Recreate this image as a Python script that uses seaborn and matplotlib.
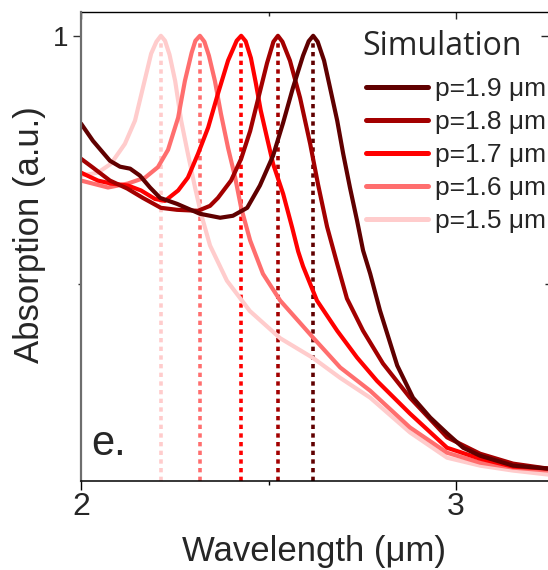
import matplotlib

matplotlib.use("Agg")
import matplotlib.pyplot as plt
import pandas as pd
import seaborn as sns
from matplotlib.ticker import FixedLocator


# Simulated absorption spectra
labels = ["p=1.5 μm", "p=1.6 μm", "p=1.7 μm", "p=1.8 μm", "p=1.9 μm"]
colors = ["#FFCCCC", "#FF6E6E", "#FF0000", "#A30000", "#600000"]
peaks = [2.213, 2.317, 2.427, 2.525, 2.619]

wl_15 = [2.000, 2.045, 2.080, 2.117, 2.144, 2.165, 2.187, 2.201, 2.213, 2.224,
         2.236, 2.251, 2.267, 2.285, 2.304, 2.320, 2.344, 2.389, 2.450, 2.531,
         2.619, 2.691, 2.771, 2.877, 2.976, 3.064, 3.152, 3.245]
abs_15 = [0.718, 0.724, 0.742, 0.782, 0.829, 0.895, 0.964, 0.988, 1.000, 0.990,
          0.962, 0.909, 0.829, 0.762, 0.694, 0.641, 0.577, 0.506, 0.445, 0.390,
          0.350, 0.310, 0.270, 0.200, 0.149, 0.133, 0.123, 0.115]

wl_16 = [2.000, 2.072, 2.125, 2.171, 2.205, 2.232, 2.259, 2.277, 2.295, 2.305,
         2.317, 2.329, 2.341, 2.357, 2.373, 2.392, 2.411, 2.427, 2.451, 2.485,
         2.531, 2.619, 2.691, 2.771, 2.877, 2.976, 3.064, 3.152, 3.245]
abs_16 = [0.708, 0.694, 0.702, 0.714, 0.735, 0.770, 0.835, 0.909, 0.966, 0.990,
          1.000, 0.988, 0.960, 0.909, 0.843, 0.774, 0.714, 0.653, 0.587, 0.520,
          0.466, 0.391, 0.331, 0.284, 0.210, 0.159, 0.139, 0.129, 0.123]

wl_17 = [2.000, 2.045, 2.080, 2.125, 2.160, 2.197, 2.224, 2.259, 2.285, 2.312,
         2.339, 2.365, 2.392, 2.415, 2.427, 2.439, 2.453, 2.466, 2.479, 2.496,
         2.512, 2.539, 2.563, 2.579, 2.592, 2.629, 2.683, 2.736, 2.789, 2.877,
         2.976, 3.064, 3.152, 3.245]
abs_17 = [0.724, 0.708, 0.702, 0.698, 0.688, 0.671, 0.667, 0.688, 0.714, 0.762,
          0.815, 0.883, 0.950, 0.990, 1.000, 0.989, 0.955, 0.905, 0.850, 0.794,
          0.742, 0.681, 0.613, 0.565, 0.535, 0.466, 0.405, 0.351, 0.304, 0.238,
          0.169, 0.147, 0.131, 0.127]

wl_18 = [2.000, 2.032, 2.077, 2.123, 2.165, 2.213, 2.256, 2.312, 2.344, 2.365,
         2.400, 2.427, 2.451, 2.469, 2.496, 2.513, 2.525, 2.537, 2.557, 2.584,
         2.611, 2.632, 2.656, 2.683, 2.709, 2.752, 2.805, 2.877, 2.976, 3.064,
         3.152, 3.245]
abs_18 = [0.752, 0.734, 0.708, 0.692, 0.673, 0.653, 0.649, 0.647, 0.657, 0.673,
          0.708, 0.752, 0.808, 0.863, 0.945, 0.988, 1.000, 0.988, 0.950, 0.875,
          0.782, 0.700, 0.615, 0.540, 0.470, 0.405, 0.339, 0.270, 0.190, 0.157,
          0.137, 0.127]

wl_19 = [2.000, 2.032, 2.077, 2.104, 2.131, 2.157, 2.184, 2.211, 2.256, 2.317,
         2.371, 2.405, 2.443, 2.477, 2.512, 2.539, 2.565, 2.592, 2.607, 2.619,
         2.631, 2.648, 2.664, 2.683, 2.699, 2.717, 2.736, 2.752, 2.771, 2.797,
         2.843, 2.885, 2.931, 2.976, 3.019, 3.064, 3.152, 3.245]
abs_19 = [0.823, 0.788, 0.748, 0.736, 0.732, 0.718, 0.694, 0.673, 0.661, 0.641,
          0.633, 0.637, 0.653, 0.698, 0.758, 0.825, 0.895, 0.960, 0.989, 1.000,
          0.988, 0.950, 0.895, 0.829, 0.762, 0.694, 0.627, 0.567, 0.520, 0.446,
          0.335, 0.270, 0.230, 0.198, 0.169, 0.153, 0.133, 0.127]

y_bottom, y_top = 0.102, 1.048
x_left, x_right = 2.0, 3.245


def build_frame():
    series = [(wl_15, abs_15), (wl_16, abs_16), (wl_17, abs_17),
              (wl_18, abs_18), (wl_19, abs_19)]
    frames = []
    for label, (wl, ab) in zip(labels, series):
        frames.append(pd.DataFrame({"wavelength": wl, "absorption": ab, "period": label}))
    return pd.concat(frames, ignore_index=True)


def main():
    df = build_frame()

    sns.set_theme(style="ticks")
    plt.rcParams["font.family"] = ["Liberation Sans", "DejaVu Sans"]
    plt.rcParams["lines.solid_joinstyle"] = "round"
    plt.rcParams["lines.solid_capstyle"] = "round"

    fig = plt.figure(figsize=(5.48, 5.70), dpi=100)
    ax = fig.add_axes([81 / 548, 89 / 570, 467 / 548, 469 / 570])

    # dotted markers at each resonance
    for pk, c in zip(peaks, colors):
        ax.vlines(pk, y_bottom, 1.0, colors=c, linestyles=(0, (1.2, 1.2)), lw=2.6, zorder=1)

    sns.lineplot(
        data=df, x="wavelength", y="absorption", hue="period",
        hue_order=labels, palette=colors, lw=3, estimator=None, ax=ax, zorder=2,
    )

    ax.set_xlim(x_left, x_right)
    ax.set_ylim(y_bottom, y_top)

    # spines
    ax.spines["right"].set_visible(False)
    ax.spines["top"].set_visible(False)
    ax.spines["left"].set_color("#6e6e6e")
    ax.spines["left"].set_linewidth(1.6)
    ax.spines["bottom"].set_color("black")
    ax.spines["bottom"].set_linewidth(1.1)

    ax.set_xticks([2, 3])
    ax.set_xticks([2.5], minor=True)
    ax.set_yticks([1])
    ax.set_yticks([0.5], minor=True)
    ax.set_xticklabels(["2", "3"])
    ax.set_yticklabels(["1"])
    ax.tick_params(axis="x", which="major", direction="out", length=6.5, width=1,
                   labelsize=23, pad=1.5, bottom=True, color="black")
    ax.tick_params(axis="x", which="minor", direction="out", length=3.2, width=1,
                   bottom=True, color="black")
    ax.tick_params(axis="y", which="major", direction="out", length=6, width=1,
                   labelsize=20, pad=3, left=True, color="#333333")
    ax.tick_params(axis="y", which="minor", direction="out", length=2.5, width=1,
                   left=True, color="#333333")

    # mirrored ticks pointing inwards on top and right
    top = ax.secondary_xaxis("top")
    top.xaxis.set_major_locator(FixedLocator([2, 3]))
    top.xaxis.set_minor_locator(FixedLocator([2.5]))
    top.tick_params(which="major", direction="in", length=5, width=1, labeltop=False, top=True)
    top.tick_params(which="minor", direction="in", length=3, width=1, top=True)
    top.spines["top"].set_linewidth(1.0)
    top.spines["top"].set_color("black")

    right = ax.secondary_yaxis("right")
    right.yaxis.set_major_locator(FixedLocator([1]))
    right.yaxis.set_minor_locator(FixedLocator([0.5]))
    right.tick_params(which="major", direction="in", length=5, width=1, labelright=False, right=True)
    right.tick_params(which="minor", direction="in", length=2.5, width=1, right=True)
    right.spines["right"].set_visible(False)

    ax.set_xlabel("Wavelength (μm)", fontsize=25)
    ax.set_ylabel("Absorption (a.u.)", fontsize=25)
    ax.xaxis.set_label_coords(0.5, -0.115)
    ax.yaxis.set_label_coords(-0.076, 0.525)

    ax.text(0.021, 0.055, "e.", transform=ax.transAxes, fontsize=30,
            ha="left", va="baseline")

    # legend title as a separate text so the gap above the entries can be matched
    fig.text(362 / 548, 1 - 55 / 570, "Simulation", family="Open Sans",
             fontsize=23, ha="left", va="baseline")

    handles, names = ax.get_legend_handles_labels()
    leg = ax.legend(
        handles[::-1], names[::-1],
        loc="upper left", bbox_to_anchor=(366 / 548, (570 - 77) / 570),
        bbox_transform=fig.transFigure, frameon=False, borderpad=0,
        borderaxespad=0, handlelength=2.35, handletextpad=0.28, labelspacing=0.34,
        prop={"family": "Liberation Sans", "size": 19},
    )
    for line in leg.get_lines():
        line.set_linewidth(3.6)

    fig.savefig("out.png", dpi=100)


if __name__ == "__main__":
    main()
